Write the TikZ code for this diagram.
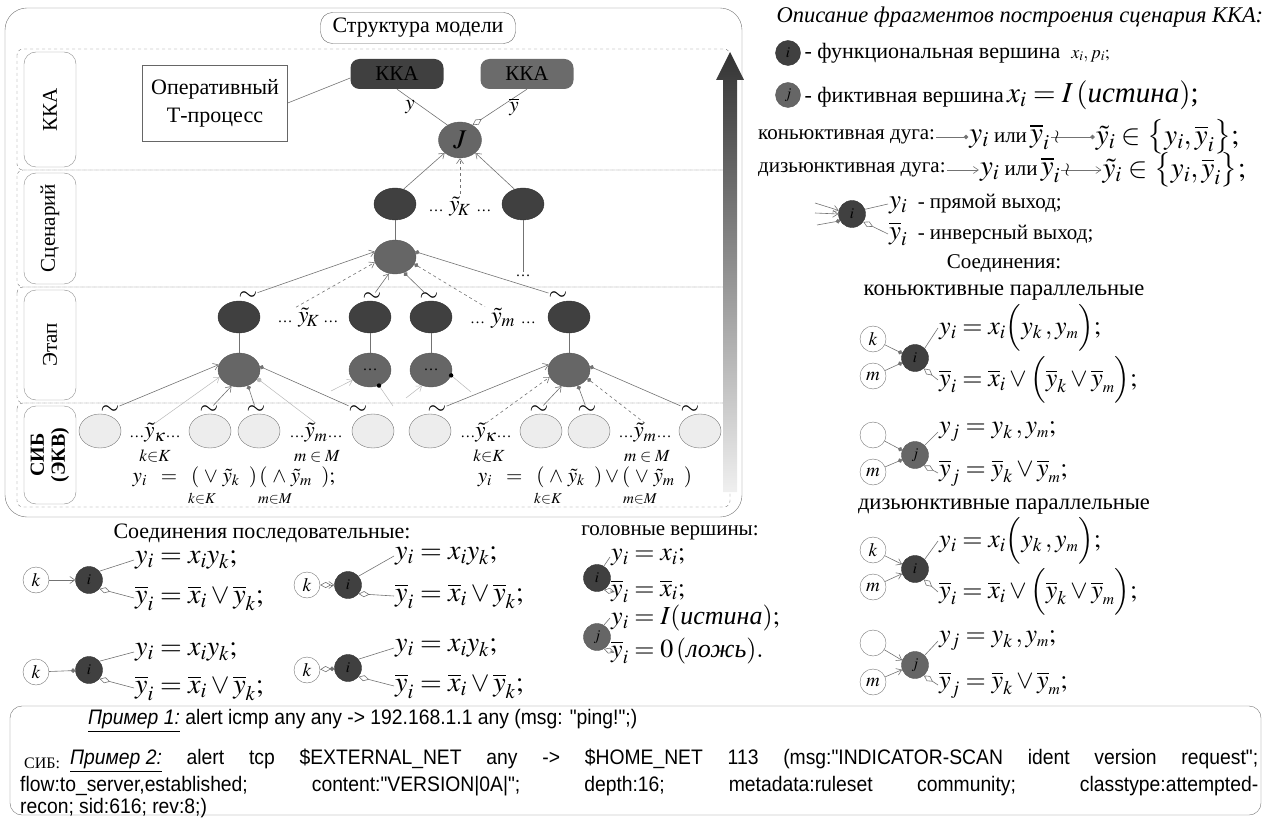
\documentclass[tikz,border=0pt]{standalone}
\usepackage{amsmath}
\usepackage{mathptmx}
\usepackage[no-math]{fontspec}
\setmainfont{Liberation Serif}
\newfontfamily\codefont[Ligatures=TeXOff, FakeStretch=0.92]{Liberation Sans}
\usetikzlibrary{
    shapes.geometric,
    positioning,
    arrows.meta,
    calc
}
\newcommand{\fs}[1]{\fontsize{#1}{#1}\selectfont}
\newcommand{\sdots}{{\fs{15}\ldots}}
\tikzset{
  wire/.style = {
      draw=black!55,
      line width=0.6pt
  },
  dis arc/.style = {
      wire,
      -{Straight Barb[length=5pt,width=7pt]}
  },
  conj arc/.style = {
      wire,
      {Circle[length=4.5pt]}-
  },
  inv out/.style = {
      wire,
      {Diamond[open,length=11pt,width=6pt]}-
  },
  light arc/.style = {
      draw=black!28,
      line width=0.5pt
  },
  func node/.style = {
      circle,
      draw=black!80,
      fill=black!75,
      minimum size=27pt,
      inner sep=0pt,
      font=\fs{15}
  },
  fict node/.style = {
      func node,
      draw=black!65,
      fill=black!60
  },
  big func/.style = {
      ellipse,
      draw=black!80,
      fill=black!75,
      minimum width=42pt,
      minimum height=32pt,
      inner sep=0pt
  },
  big fict/.style = {
      big func,
      draw=black!65,
      fill=black!60,
      minimum height=34pt
  },
  sib node/.style = {
      ellipse,
      draw=black!55,
      fill=black!7,
      minimum width=42pt,
      minimum height=34pt
  },
  port node/.style = {
      circle,
      draw=black!55,
      minimum size=26pt,
      inner sep=0pt,
      font=\fs{19}
  },
  tilde mark/.style = {
      inner sep=0pt,
      font=\fs{24}
  },
  formula/.style = {
      anchor=west,
      inner sep=1pt,
      font=\fs{26}
  },
  seq formula/.style = {
      formula,
      font=\fs{28}
  },
  sub label/.style = {
      inner sep=0pt,
      font=\fs{15}
  },
  layer box/.style = {
      draw=black!55,
      dashed,
      rounded corners=6pt
  },
  layer label/.style = {
      draw=black!45,
      rounded corners=12pt
  },
  kka box/.style = {
      rounded corners=9pt,
      minimum width=93pt,
      minimum height=30pt,
      font=\fs{21}
  },
  code/.style = {
      anchor=west,
      inner sep=0pt,
      font=\codefont\fs{21}
  }
}

\begin{document}
\begin{tikzpicture}[x=1pt, y=-1pt, font=\fs{21}]
    \useasboundingbox (0,0) rectangle (1266,818);
    % model structure panel
    \draw[black!55, rounded corners=22pt] (5,8) rectangle (742,517);
    \foreach \yt/\yd in {49/170, 170/287, 287/403, 403/507}{
        \draw[layer box] (17,\yt) rectangle (730,\yd);
        \draw[layer label] (24,\yt+3) rectangle (76,\yd-3);
    }
    \node[rotate=90, font=\fs{21}] at (50,110) {ККА};
    \node[rotate=90, font=\fs{21}] at (50,228) {Сценарий};
    \node[rotate=90, font=\fs{21}] at (50,345) {Этап};
    \node[rotate=90, align=center, font=\fontsize{20}{21}\selectfont\bfseries] at (50,455) {СИБ\\(ЭКВ)};
    \node[draw=black!60, rounded corners=12pt, fill=white, minimum width=195pt, minimum height=31pt, font=\fs{22}] (title) at (418,28) {Структура модели};
    % level arrow
    \shade[top color=black!80, middle color=black!50, bottom color=black!6]
        (723,492) -- (723,80) -- (716,80) -- (730,52) -- (744,80) -- (737,80) -- (737,492) -- cycle;
    % KKA level
    \node[draw=black!60, minimum width=145pt, minimum height=76pt, align=center, font=\fontsize{22}{28}\selectfont] (opr) at (215,103) {Оперативный\\Т-процесс};
    \node[kka box, fill=black!75] (kka1) at (397,74) {ККА};
    \node[kka box, fill=black!58] (kka2) at (527,74) {ККА};
    \node[big fict, minimum width=43pt, minimum height=36pt, font=\fs{27}] (J) at (460,140) {$J$};
    \draw[wire] (opr.east) -- ([yshift=-4pt]kka1.west);
    \draw[wire] (kka1.south) -- (J.130) node[midway, left=4pt] {$y$};
    \draw[inv out] (J.50) -- (kka2.south) node[midway, right=6pt] {$\overline{y}$};
    % scenario level
    \node[big func] (c1) at (395,204) {};
    \node[big func] (c2) at (523,204) {};
    \node[font=\fs{23}] (cyk) at (460,207) {\sdots\ $\tilde{y}_{\!K}$\ \sdots};
    \node[big fict] (cs) at (395,257) {};
    \node (cdots) at (523,276) {\sdots};
    \draw[dis arc] (c1.60) -- (J.-140);
    \draw[dis arc] (c2.120) -- (J.-40);
    \draw[dis arc, dashed] (cyk.north) -- (J.south);
    \draw[wire] (c1) -- (cs);
    \draw[wire] (c2) -- (cdots);
    % stage level
    \foreach \n/\x in {1/239, 2/370, 3/431, 4/569}{
        \node[big func] (e\n) at (\x,317) {};
    }
    \node[big fict] (g1) at (239,370) {};
    \node[big fict] (g2) at (370,370) {\sdots};
    \node[big fict] (g3) at (431,370) {\sdots};
    \node[big fict] (g4) at (569,370) {};
    \foreach \n in {1,...,4}{
        \draw[wire] (e\n) -- (g\n);
    }
    \node[font=\fs{23}, inner sep=1pt] (eyk) at (308,318) {\sdots\ $\tilde{y}_{\!K}$\,\sdots};
    \node[font=\fs{24}, inner sep=1pt] (eym) at (503,318) {\sdots\ $\tilde{y}_m$\ \sdots};
    \foreach \n/\x/\y in {1/248/296, 2/372/297, 3/429/297, 4/558/296}{
        \node[tilde mark] (te\n) at (\x,\y) {$\sim$};
    }
    \draw[dis arc] (te1) -- (cs.165);
    \draw[dis arc, dashed] ([xshift=-12pt]eyk.north) -- (cs.-165);
    \draw[dis arc] (te2) -- (cs.-110);
    \draw[conj arc] (cs.-60) -- (te3);
    \draw[conj arc, dashed] (cs.-20) -- ([xshift=-18pt]eym.north);
    \draw[conj arc] (cs.15) -- (te4);
    % SIB level
    \foreach \n/\x in {1/100, 2/210, 3/259, 4/373, 5/430, 6/541, 7/589, 8/700}{
        \node[sib node] (s\n) at (\x,431) {};
    }
    \foreach \n/\x in {1/110, 2/209, 3/256, 4/358, 5/437, 6/539, 7/587, 8/690}{
        \node[tilde mark] (ts\n) at (\x,410) {$\sim$};
    }
    \node[font=\fs{23}, inner sep=0pt] (syk1) at (155,433) {\sdots$\tilde{y}_\kappa$\sdots};
    \node[font=\fs{23}, inner sep=0pt] (sym1) at (316,433) {\sdots$\tilde{y}_m$\sdots};
    \node[font=\fs{23}, inner sep=0pt] (syk2) at (486,433) {\sdots$\tilde{y}_\kappa$\sdots};
    \node[font=\fs{23}, inner sep=0pt] (sym2) at (645,433) {\sdots$\tilde{y}_m$\sdots};
    \draw[dis arc] (ts1) -- (g1.165);
    \draw[light arc, -{Straight Barb[length=5pt,width=7pt]}] (syk1.north) -- (g1.-160);
    \draw[dis arc] (ts2) -- (g1.-115);
    \draw[conj arc] (g1.-60) -- (ts3);
    \draw[light arc, {Circle[length=4.5pt]}-] (g1.-25) -- (sym1.north);
    \draw[conj arc] (g1.10) -- (ts4);
    \draw[dis arc] (ts5) -- (g4.165);
    \draw[dis arc, dashed] (syk2.north) -- (g4.-160);
    \draw[dis arc] (ts6) -- (g4.-115);
    \draw[conj arc] (g4.-60) -- (ts7);
    \draw[conj arc, dashed] (g4.-25) -- (sym2.north);
    \draw[conj arc] (g4.10) -- (ts8);
    \coordinate (g2in) at (331,391);
    \coordinate (g2out) at (393,406);
    \coordinate (g3in) at (406,398);
    \coordinate (g3out) at (471,392);
    \draw[light arc, -{Straight Barb[length=5pt,width=7pt]}] (g2in) -- (g2.-150);
    \draw[light arc] (g2.-60) -- (g2out);
    \fill[black] (g2.-60) circle (2.2pt);
    \draw[light arc, -{Straight Barb[length=5pt,width=7pt]}] (g3in) -- (g3.-120);
    \draw[light arc] (g3.-15) -- (g3out);
    \fill[black] (g3.-15) circle (2.2pt);
    \foreach \x/\t in {155/k{\in}K, 317/m\in M, 489/k{\in}K, 647/m\in M}{
        \node[sub label, font=\fs{17}] at (\x,456) {$\t$};
    }
    \node[inner sep=0pt, font=\fs{21}] (f1) at (234,477) {$y_i\;\;=\;\;(\;\vee\;\tilde{y}_k\;\;)\,(\;\wedge\;\tilde{y}_m\;\;);$};
    \node[inner sep=0pt, font=\fs{21}] (f2) at (585,477) {$y_i\;\;=\;\;(\;\wedge\;\tilde{y}_k\;\;)\vee(\;\vee\;\tilde{y}_m\;\;)$};
    \foreach \x/\t in {202/k{\in}K, 275/m{\in}M, 548/k{\in}K, 640/m{\in}M}{
        \node[sub label] at (\x,499) {$\t$};
    }
    % legend
    \node[anchor=west, font=\fs{22.5}\itshape] (desc) at (773,17) {Описание фрагментов построения сценария ККА:};
    \node[func node, minimum size=25pt] (lf) at (788,53) {$i$};
    \node[anchor=west, font=\fs{22}] (lft) at (801,53) {- функциональная вершина\ \ {\fs{18}$x_i, p_i;$}};
    \node[fict node, minimum size=25pt] (lj) at (788,95) {$j$};
    \node[anchor=west, font=\fs{22}] (ljt) at (801,95) {- фиктивная вершина{\fs{29}$\,x_i = I\,(\textit{истина})$;}};
    \node[anchor=west, inner sep=1pt] (cj) at (757,137) {коньюктивная дуга:};
    \node[right=32pt of cj, inner sep=1pt] (cjy) {{\fs{29}$y_i$} или{\fs{29}$\,\overline{y}_i$}};
    \node[right=44pt of cjy, inner sep=1pt, font=\fs{29}] (cjt) {$\tilde{y}_i \in \bigl\{y_i, \overline{y}_i\bigr\};$};
    \draw[wire, -{Circle[length=4.5pt]}] (cj) -- (cjy);
    \draw[wire, -{Circle[length=4.5pt]}] (cjy) -- (cjt) node[pos=0, anchor=west, font=\fs{18}] {$\wr$};
    \node[anchor=west, inner sep=1pt] (dj) at (757,170) {дизьюнктивная дуга:};
    \node[right=32pt of dj, inner sep=1pt] (djy) {{\fs{29}$y_i$} или{\fs{29}$\,\overline{y}_i$}};
    \node[right=40pt of djy, inner sep=1pt, font=\fs{29}] (djt) {$\tilde{y}_i \in \bigl\{y_i, \overline{y}_i\bigr\};$};
    \draw[dis arc] (dj) -- (djy);
    \draw[dis arc] (djy) -- (djt) node[pos=0, anchor=west, font=\fs{18}] {$\wr$};
    \node[func node] (lr) at (852,214) {$i$};
    \coordinate (lin1) at (815,203);
    \coordinate (lin2) at (815,213);
    \coordinate (lin3) at (817,225);
    \draw[dis arc] (lin1) -- (lr.165);
    \draw[dis arc] (lin2) -- (lr.180);
    \draw[wire, -{Circle[length=4.5pt]}] (lin3) -- (lr.-150);
    \node[anchor=west, inner sep=1pt] (ry) at (888,204) {{\fs{27}$y_i$}\ \ - прямой выход;};
    \node[anchor=west, inner sep=1pt] (ryb) at (888,234) {{\fs{27}$\overline{y}_i$}\ \ - инверсный выход;};
    \draw[wire] (lr.20) -- (ry.west);
    \draw[inv out] (lr.-35) -- (ryb.west);
    \node (conn) at (1004,264) {Соединения:};
    \node[font=\fs{22.5}] (cpar) at (1004,293) {коньюктивные параллельные};
    \node[font=\fs{22.5}] (dpar) at (1004,507) {дизьюнктивные параллельные};
    % conjunctive parallel
    \node[port node] (pk1) at (873,339) {$k$};
    \node[port node] (pm1) at (873,376) {$m$};
    \node[func node] (p1) at (915,358) {$i$};
    \draw[wire, -{Circle[length=4.5pt]}] (pk1) -- (p1.160);
    \draw[wire, -{Circle[length=4.5pt]}] (pm1) -- (p1.-160);
    \node[formula] (p1y) at (938,328) {$y_i = x_i\Bigl(y_k\,, y_{\scriptscriptstyle m}\Bigr);$};
    \node[formula] (p1n) at (938,380) {$\overline{y}_i = \overline{x}_i\vee\Bigl(\overline{y}_k\vee\overline{y}_{\scriptscriptstyle m}\Bigr);$};
    \draw[wire] (p1.45) -- (p1y.west);
    \draw[inv out] (p1.-50) -- (p1n.west);
    \node[port node] (pk2) at (873,435) {};
    \node[port node] (pm2) at (873,472) {$m$};
    \node[fict node] (p2) at (915,455) {$j$};
    \draw[wire, -{Circle[length=4.5pt]}] (pk2) -- (p2.160);
    \draw[wire, -{Circle[length=4.5pt]}] (pm2) -- (p2.-160);
    \node[formula] (p2y) at (938,432) {$y_j = y_k\,, y_{\scriptscriptstyle m};$};
    \node[formula] (p2n) at (938,473) {$\overline{y}_j = \overline{y}_k\vee\overline{y}_{\scriptscriptstyle m};$};
    \draw[wire] (p2.45) -- (p2y.west);
    \draw[inv out] (p2.-50) -- (p2n.west);
    % disjunctive parallel
    \node[port node] (pk3) at (873,550) {$k$};
    \node[port node] (pm3) at (873,587) {$m$};
    \node[func node] (p3) at (915,569) {$i$};
    \draw[dis arc] (pk3) -- (p3.160);
    \draw[dis arc] (pm3) -- (p3.-160);
    \node[formula] (p3y) at (938,541) {$y_i = x_i\Bigl(y_k\,, y_{\scriptscriptstyle m}\Bigr);$};
    \node[formula] (p3n) at (938,592) {$\overline{y}_i = \overline{x}_i\vee\Bigl(\overline{y}_k\vee\overline{y}_{\scriptscriptstyle m}\Bigr);$};
    \draw[wire] (p3.45) -- (p3y.west);
    \draw[inv out] (p3.-50) -- (p3n.west);
    \node[port node] (pk4) at (873,643) {};
    \node[port node] (pm4) at (873,682) {$m$};
    \node[fict node] (p4) at (915,665) {$j$};
    \draw[dis arc] (pk4) -- (p4.160);
    \draw[dis arc] (pm4) -- (p4.-160);
    \node[formula] (p4y) at (938,641) {$y_j = y_k\,, y_{\scriptscriptstyle m};$};
    \node[formula] (p4n) at (938,685) {$\overline{y}_j = \overline{y}_k\vee\overline{y}_{\scriptscriptstyle m};$};
    \draw[wire] (p4.45) -- (p4y.west);
    \draw[inv out] (p4.-50) -- (p4n.west);
    % sequential connections
    \node[font=\fs{22}] (seq) at (262,533) {Соединения последовательные:};
    \node[port node] (k1) at (36,580) {$k$};
    \node[func node] (i1) at (89,580) {$i$};
    \draw[dis arc] (k1) -- (i1);
    \node[seq formula] (i1y) at (134,560) {$y_i = x_i y_k;$};
    \node[seq formula] (i1n) at (134,598) {$\overline{y}_i = \overline{x}_i \vee \overline{y}_k;$};
    \draw[wire] (i1.40) -- (i1y.west);
    \draw[inv out] (i1.-40) -- (i1n.west);
    \node[port node] (k2) at (307,585) {$k$};
    \node[func node] (i2) at (348,585) {$i$};
    \draw[wire, {Diamond[open,length=11pt,width=6pt]}-{Straight Barb[length=5pt,width=7pt]}] (k2) -- (i2);
    \node[seq formula] (i2y) at (394,556) {$y_i = x_i y_k;$};
    \node[seq formula] (i2n) at (394,596) {$\overline{y}_i = \overline{x}_i \vee \overline{y}_k;$};
    \draw[wire] (i2.40) -- (i2y.west);
    \draw[inv out] (i2.-40) -- (i2n.west);
    \node[port node] (k3) at (36,672) {$k$};
    \node[func node] (i3) at (89,670) {$i$};
    \draw[wire, -{Circle[length=4.5pt]}] (k3) -- (i3);
    \node[seq formula] (i3y) at (134,652) {$y_i = x_i y_k;$};
    \node[seq formula] (i3n) at (134,688) {$\overline{y}_i = \overline{x}_i \vee \overline{y}_k;$};
    \draw[wire] (i3.40) -- (i3y.west);
    \draw[inv out] (i3.-40) -- (i3n.west);
    \node[port node] (k4) at (307,670) {$k$};
    \node[func node] (i4) at (348,668) {$i$};
    \draw[wire, {Diamond[open,length=11pt,width=6pt]}-{Circle[length=4.5pt]}] (k4) -- (i4);
    \node[seq formula] (i4y) at (394,648) {$y_i = x_i y_k;$};
    \node[seq formula] (i4n) at (394,686) {$\overline{y}_i = \overline{x}_i \vee \overline{y}_k;$};
    \draw[wire] (i4.40) -- (i4y.west);
    \draw[inv out] (i4.-40) -- (i4n.west);
    % head nodes
    \node[font=\fs{21}] (head) at (670,533) {головные вершины:};
    \node[func node] (h1) at (597,578) {$i$};
    \node[formula] (h1y) at (610,557) {$y_i = x_i;$};
    \node[formula] (h1n) at (610,591) {$\overline{y}_i = \overline{x}_i;$};
    \draw[wire] (h1.60) -- (h1y.west);
    \draw[inv out] (h1.-60) -- (h1n.west);
    \node[fict node] (h2) at (597,637) {$j$};
    \node[formula] (h2y) at (610,618) {$y_i = I(\textit{истина});$};
    \node[formula] (h2n) at (610,651) {$\overline{y}_i = 0\,(\textit{ложь}).$};
    \draw[wire] (h2.60) -- (h2y.west);
    \draw[inv out] (h2.-60) -- (h2n.west);
    % rule examples
    \draw[black!55, rounded corners=12pt] (10,706) rectangle (1261,815);
    \node[code] (ex1) at (88,721) {\underline{\textit{Пример 1:}} alert icmp any any -> 192.168.1.1 any (msg: "ping!";)};
    \node[anchor=west, inner sep=0pt, font=\fs{16}] (sib) at (24,763) {СИБ:};
    \node[code] (ex2) at (70,761) {\makebox[1188pt][s]{\underline{\textit{Пример 2:}} alert tcp \$EXTERNAL\_NET any -> \$HOME\_NET 113 (msg:"INDICATOR-SCAN ident version request";}};
    \node[code] (ex3) at (20,786) {\makebox[1238pt][s]{flow:to\_server,established; content:"VERSION|0A|"; depth:16; metadata:ruleset community; classtype:attempted-}};
    \node[code] (ex4) at (20,808) {recon; sid:616; rev:8;)};
\end{tikzpicture}
\end{document}
